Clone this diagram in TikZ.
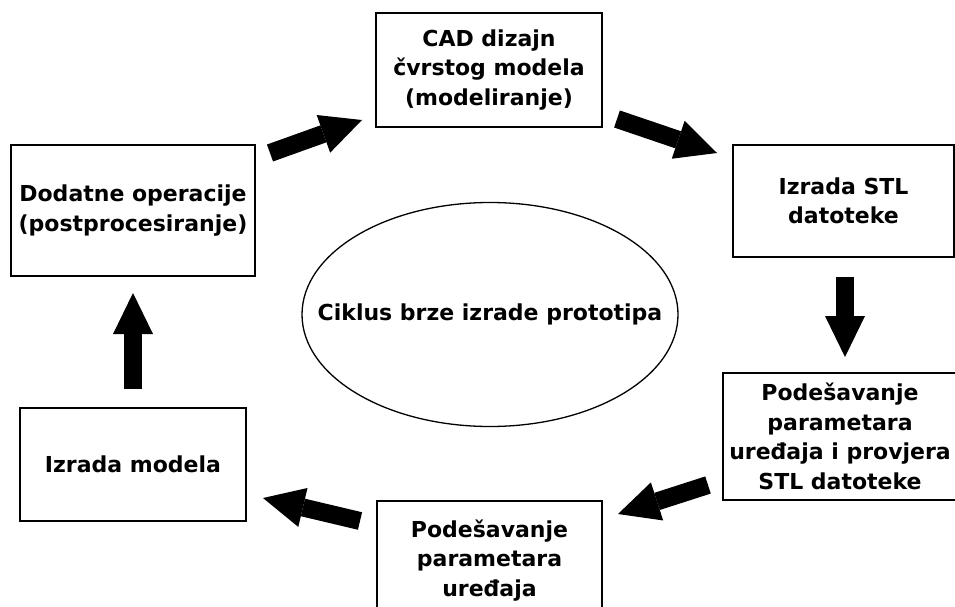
\documentclass[tikz,border=0pt]{standalone}
\usepackage{fontspec}
\setmainfont{DejaVu Sans}
\usetikzlibrary{arrows.meta,shapes.geometric}
\begin{document}
\begin{tikzpicture}[x=1pt,y=-1pt,
  lbl/.style={font=\fontsize{22}{29.5}\selectfont\bfseries, align=center},
  box/.style={draw, line width=1.6pt, inner sep=0pt, lbl},
  bigarrow/.style={line width=18pt, line cap=butt, -{Triangle[length=41pt,width=40pt,line width=0pt]}},
]
\fill[white] (0,0) rectangle (955,607);
\useasboundingbox (0,0) rectangle (955,607);

% boxes
\node[box, minimum width=226, minimum height=114] (cad) at (489,70) {CAD dizajn\\čvrstog modela\\(modeliranje)};
\node[box, minimum width=221, minimum height=112] (stl) at (843.5,201) {Izrada STL\\datoteke};
\node[box, minimum width=234, minimum height=127] (par1) at (840,436.5) {Podešavanje\\parametara\\uređaja i provjera\\STL datoteke};
\node[box, minimum width=225, minimum height=119] (par2) at (489.5,560.5) {Podešavanje\\parametara\\uređaja};
\node[box, minimum width=226, minimum height=113] (izr) at (133,464.5) {Izrada modela};
\node[box, minimum width=244, minimum height=131] (dod) at (133,210.5) {Dodatne operacije\\(postprocesiranje)};

% central ellipse
\node[draw, ellipse, line width=1.3pt, minimum width=376, minimum height=224, inner sep=0pt] (cyc) at (490,314.5) {};
\node[lbl] (cyctxt) at (cyc.center) {Ciklus brze izrade prototipa};

% arrow end points
\coordinate (a1s) at (270,153); \coordinate (a1e) at (362,120);
\coordinate (a2s) at (617,119); \coordinate (a2e) at (717,153);
\coordinate (a3s) at (845,277); \coordinate (a3e) at (845,357);
\coordinate (a4s) at (708,485); \coordinate (a4e) at (618,514);
\coordinate (a5s) at (360,521); \coordinate (a5e) at (263,498);
\coordinate (a6s) at (133,389); \coordinate (a6e) at (133,293);

\draw[bigarrow] (a1s) -- (a1e);
\draw[bigarrow] (a2s) -- (a2e);
\draw[bigarrow] (a3s) -- (a3e);
\draw[bigarrow] (a4s) -- (a4e);
\draw[bigarrow] (a5s) -- (a5e);
\draw[bigarrow] (a6s) -- (a6e);
\end{tikzpicture}
\end{document}
